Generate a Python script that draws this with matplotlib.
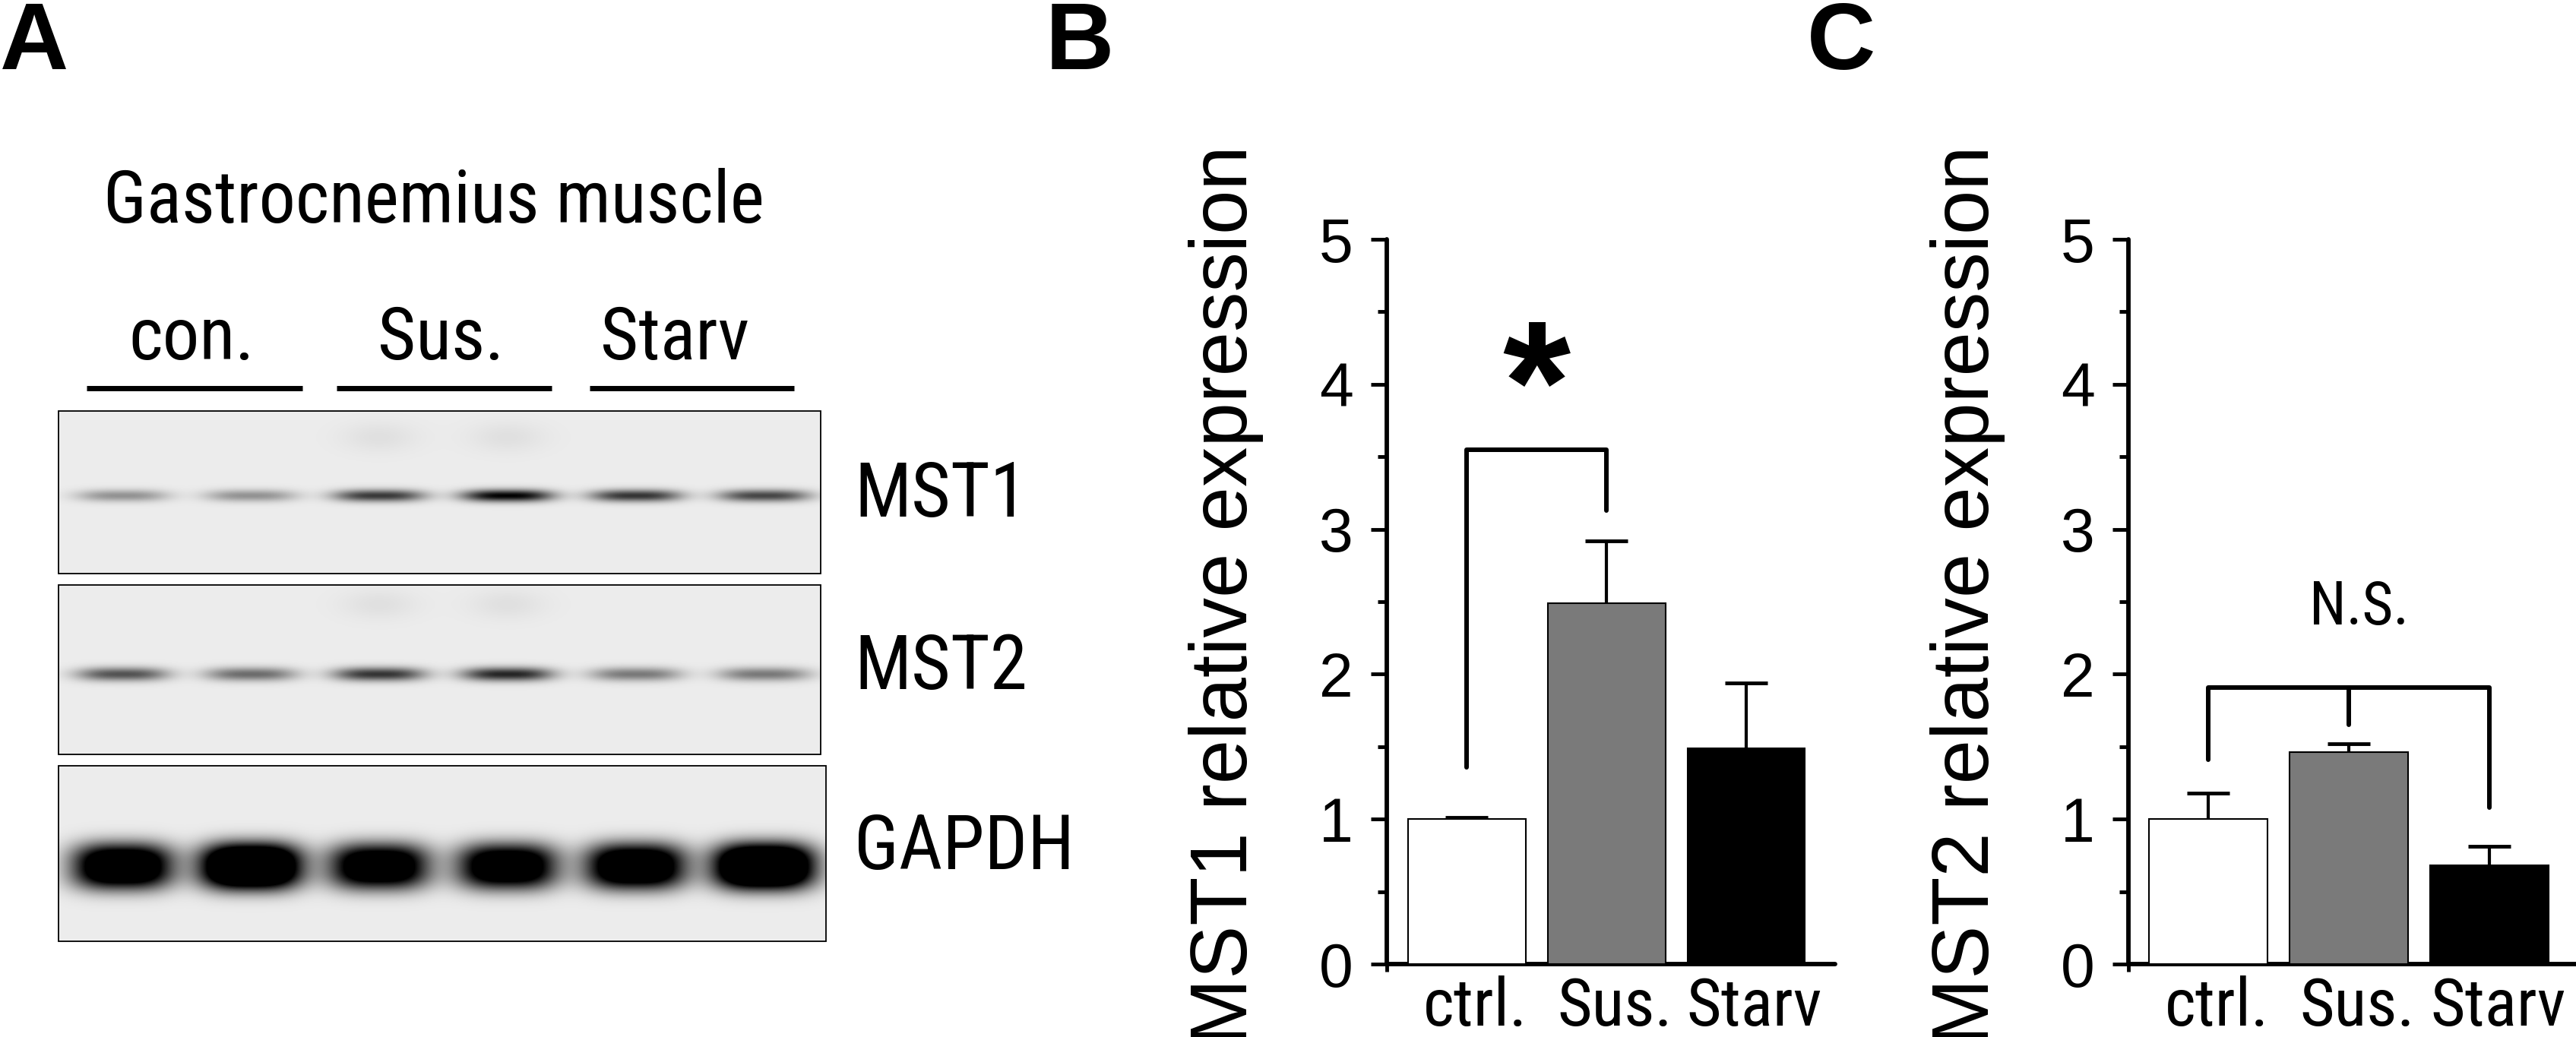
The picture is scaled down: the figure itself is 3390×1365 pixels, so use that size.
import numpy as np
import matplotlib
matplotlib.use("Agg")
from matplotlib import pyplot as plt
from matplotlib import font_manager
from matplotlib.font_manager import FontProperties
from matplotlib.patches import Rectangle

# ---- data ----
groups = ["ctrl.", "Sus.", "Starv"]
mst1_mean = [1.00, 2.49, 1.49]
mst1_err = [0.01, 0.43, 0.45]
mst2_mean = [1.00, 1.46, 0.68]
mst2_err = [0.18, 0.06, 0.13]
bar_colors = ["white", "#7a7a7a", "black"]

# significance brackets (x = bar index, y = data units)
sig_b_x = [0, 0, 1, 1]
sig_b_y = [1.36, 3.55, 3.55, 3.13]
sig_c_top = 1.91
sig_c_ends = [1.41, 1.65, 1.08]

# western blot band strength per lane (6 lanes)
blot_names = ["MST1", "MST2", "GAPDH"]
mst1_bands = [0.35, 0.35, 0.70, 0.92, 0.72, 0.65]
mst2_bands = [0.60, 0.50, 0.72, 0.78, 0.45, 0.45]
gapdh_bands = [1.4, 1.8, 1.3, 1.3, 1.4, 1.8]
lane_groups = ["con.", "Sus.", "Starv"]

plt.rcParams["font.family"] = ["Liberation Sans", "DejaVu Sans"]


# narrow face for the condensed labels, if one is installed
def pick_narrow():
    cond = ("condensed", "semi-condensed", "extra-condensed", "ultra-condensed")
    good = []
    for f in font_manager.fontManager.ttflist:
        n = f.name
        if any(k in n for k in ("Mono", "Serif", "CJK")):
            continue
        if not (f.stretch in cond or "Narrow" in n or "Condensed" in n or "Cond" in f.fname):
            continue
        if f.style != "normal" or f.weight not in (400, "normal", "regular", "book"):
            continue
        order = ["Liberation", "Arial", "Roboto", "Noto Sans", "Open Sans", "Lato", "DejaVu"]
        rank = next((i for i, k in enumerate(order) if n.startswith(k)), 99)
        good.append((rank, f.fname))
    if good:
        return FontProperties(fname=sorted(good)[0][1])
    return FontProperties(family="Liberation Sans")


NARROW = pick_narrow()

W, H = 3391, 1365
fig = plt.figure(figsize=(W / 100, H / 100), dpi=100)
renderer = fig.canvas.get_renderer()


def fit(texts, target_px):
    # scale the font so that the first text is target_px wide
    w = texts[0].get_window_extent(renderer).width
    size = texts[0].get_fontsize() * target_px / w
    for t in texts:
        t.set_fontsize(size)


def px_axes(x0, y0, x1, y1):
    # pixel box (top-left origin) -> figure axes
    return fig.add_axes([x0 / W, 1 - y1 / H, (x1 - x0) / W, (y1 - y0) / H])


# ---------------- panel A : blot ----------------
axA = px_axes(0, 0, 1200, H)
axA.set_xlim(0, 1200)
axA.set_ylim(H, 0)
axA.axis("off")


def blot(levels, box, band_y, sx, sy, py=2, smudge=None):
    x0, y0, x1, y1 = box
    yy, xx = np.mgrid[y0:y1, x0:x1].astype(float)
    img = np.full(xx.shape, 0.075)
    lane_x = 161 + 168.8 * np.arange(len(levels))
    for cx, lv in zip(lane_x, levels):
        img += lv * np.exp(-(np.abs(xx - cx) / sx) ** 3) * np.exp(-(np.abs(yy - band_y) / sy) ** py)
    if smudge is not None:
        sy_, lv_ = smudge
        for cx in lane_x[2:4]:
            img += lv_ * np.exp(-((xx - cx) / 50) ** 2) * np.exp(-((yy - sy_) / 20) ** 2)
    img = np.clip(img, 0, 1)
    axA.imshow(img, cmap="gray_r", vmin=0, vmax=1, extent=(x0, x1, y1, y0),
               aspect="auto", interpolation="bilinear")
    axA.add_patch(Rectangle((x0, y0), x1 - x0, y1 - y0, fill=False, lw=1.3, ec="black"))


blot(mst1_bands, (77, 541, 1080, 755), 652, 60, 8, smudge=(575, 0.05))
blot(mst2_bands, (77, 770, 1080, 993), 887, 60, 9, smudge=(795, 0.05))
blot(gapdh_bands, (77, 1008, 1087, 1239), 1140, 66, 30, py=2.6)

prot = [axA.text(1124, yb, name, fontproperties=NARROW, fontsize=60, ha="left", va="baseline")
        for name, yb in zip(blot_names, [680, 907, 1144])]
fit([prot[2], prot[0], prot[1]], 290)

title = axA.text(571, 293, "Gastrocnemius muscle", fontproperties=NARROW, fontsize=60,
                 ha="center", va="baseline")
fit([title], 870)
grp = []
for lab, cx, (lx0, lx1) in zip(lane_groups, [252, 580, 888],
                               [(114, 398), (443, 726), (776, 1045)]):
    grp.append(axA.text(cx, 473, lab, fontproperties=NARROW, fontsize=60,
                        ha="center", va="baseline"))
    axA.plot([lx0, lx1], [511, 511], color="black", lw=5, solid_capstyle="butt")
fit([grp[1], grp[0], grp[2]], 167)


# ---------------- panels B and C : bars ----------------
def bar_panel(x0, x1, means, errs, ylabel, xlim):
    ax = px_axes(x0, 315, x1, 1269)
    pos = np.arange(len(means))
    ax.bar(pos, means, width=0.843, color=bar_colors, edgecolor="black", lw=1.5, zorder=3)
    eb = ax.errorbar(pos, means, yerr=[np.zeros(len(errs)), errs], fmt="none",
                     ecolor="black", elinewidth=3, capsize=20, capthick=3.5, zorder=2)
    for cl in eb[1]:
        if np.allclose(cl.get_ydata(), means):
            cl.set_visible(False)
    ax.set_xlim(*xlim)
    ax.set_ylim(0, 5)
    for s in ["top", "right"]:
        ax.spines[s].set_visible(False)
    for s in ["left", "bottom"]:
        ax.spines[s].set_linewidth(4.2)
        ax.spines[s].set_capstyle("round")
    ax.set_yticks(range(6))
    ax.set_yticks(np.arange(0.5, 5, 1), minor=True)
    ax.tick_params(axis="y", which="major", length=15, width=3.5, pad=17, labelsize=58)
    ax.tick_params(axis="y", which="minor", length=8.5, width=3.5)
    ax.set_xticks(pos + 0.06)
    ax.set_xticklabels(groups, fontproperties=NARROW, fontsize=60)
    ax.set_xticks([xlim[0]], minor=True)
    ax.tick_params(axis="x", which="major", length=0, pad=11)
    ax.tick_params(axis="x", which="minor", length=7, width=3.5)
    labs = ax.get_xticklabels()
    fit([labs[1], labs[0], labs[2]], 152)
    ax.set_ylabel(ylabel, fontsize=75.5)
    ax.yaxis.set_label_coords(-162 / (x1 - x0), 0.509)
    ax.patch.set_alpha(0)
    return ax


axB = bar_panel(1825, 2415, mst1_mean, mst1_err, "MST1 relative expression", (-0.574, 2.637))
axB.plot(sig_b_x, sig_b_y, color="black", lw=4.3, solid_capstyle="round", zorder=4)
axB.text(0.5, 3.92, "*", fontsize=165, fontweight="bold", ha="center", va="center")

axC = bar_panel(2801, 3391, mst2_mean, mst2_err, "MST2 relative expression", (-0.568, 2.62))
axC.plot([0, 0, 2, 2], [sig_c_ends[0], sig_c_top, sig_c_top, sig_c_ends[2]],
         color="black", lw=4.3, solid_capstyle="round", zorder=4)
axC.plot([1, 1], [sig_c_top, sig_c_ends[1]], color="black", lw=4.3,
         solid_capstyle="round", zorder=4)
ns = axC.text(1.07, 2.46, "N.S.", fontproperties=NARROW, fontsize=57, ha="center", va="center")
fit([ns], 131)

# panel letters
for lab, xl in zip("ABC", [0, 1376, 2378]):
    fig.text(xl / W, 1 - 91 / H, lab, fontsize=90, fontweight="bold",
             ha="left", va="baseline")

fig.savefig("out.png", dpi=100)
